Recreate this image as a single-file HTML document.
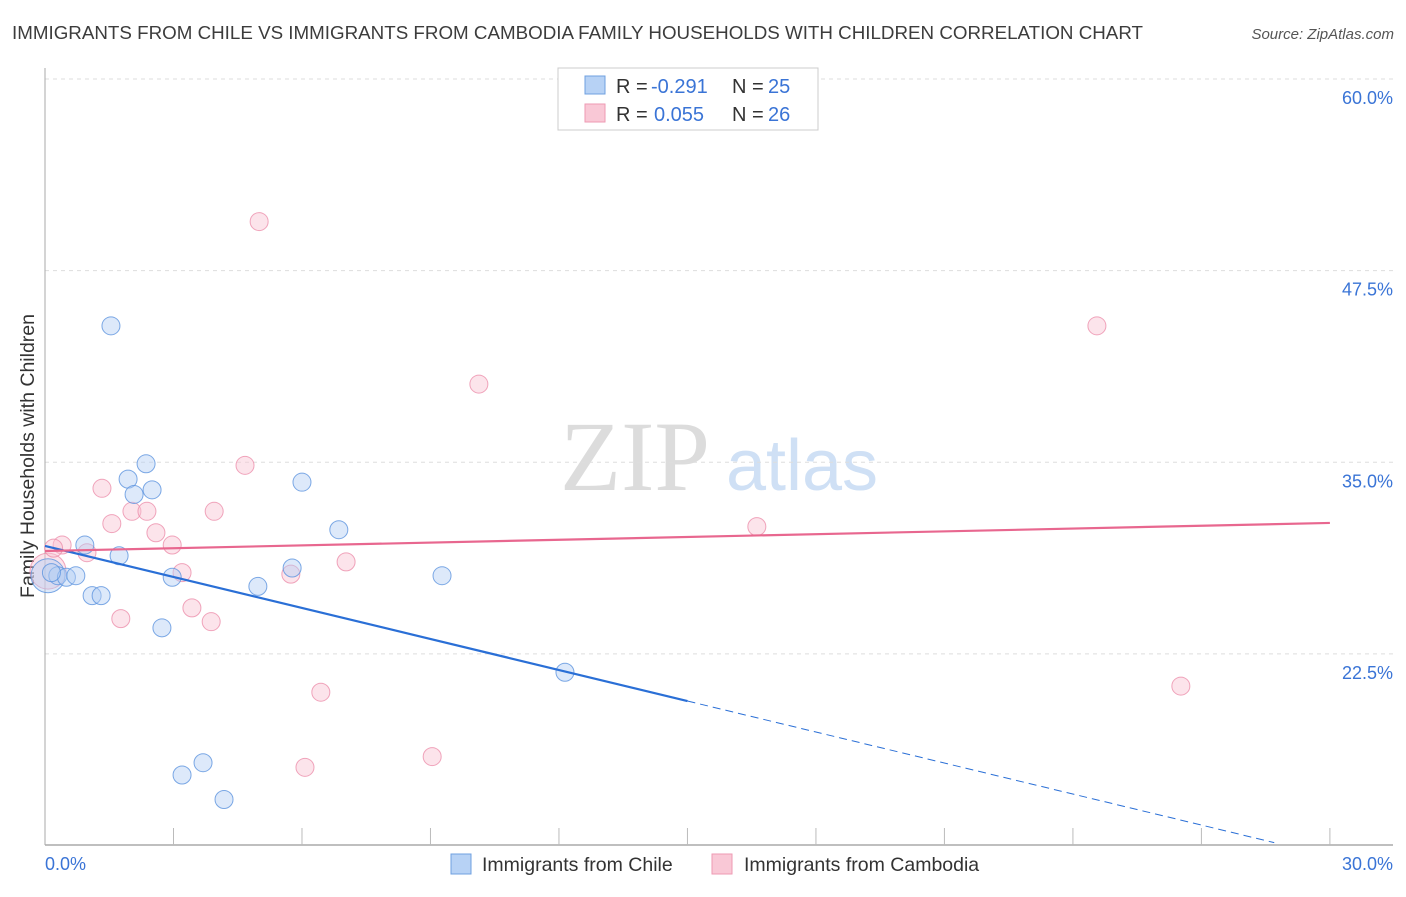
<!DOCTYPE html>
<html><head><meta charset="utf-8"><style>
body{margin:0;background:#fff;}
</style></head><body>
<svg id="chart" width="1406" height="892" xmlns="http://www.w3.org/2000/svg" font-family="Liberation Sans, sans-serif">
<text x="12" y="39" font-size="18.6" fill="#3c3c3c" textLength="1131" lengthAdjust="spacingAndGlyphs">IMMIGRANTS FROM CHILE VS IMMIGRANTS FROM CAMBODIA FAMILY HOUSEHOLDS WITH CHILDREN CORRELATION CHART</text>
<text x="1394" y="39" font-size="15" fill="#555" text-anchor="end" font-style="italic">Source: ZipAtlas.com</text>
<text transform="translate(34,456) rotate(-90)" font-size="19.5" fill="#333" text-anchor="middle">Family Households with Children</text>
<g><text x="635" y="490" font-size="100" fill="#dcdcdc" text-anchor="middle" style="font-family:'Liberation Serif',serif">ZIP</text><text x="802" y="490" font-size="72" fill="#cfe0f5" text-anchor="middle">atlas</text></g>
<g id="grid"></g><g id="axes"></g><g id="marks"></g>
<g>
<rect x="558" y="68" width="260" height="62" fill="#fff" stroke="#ccc"/>
<rect x="585" y="76" width="20" height="18" fill="#b7d2f5" stroke="#6fa0e0"/>
<rect x="585" y="104" width="20" height="18" fill="#f9c8d6" stroke="#ee9ab3"/>
<text x="616" y="93" font-size="20" fill="#333">R =</text><text x="651" y="93" font-size="20" fill="#3a74d6">-0.291</text>
<text x="732" y="93" font-size="20" fill="#333">N =</text><text x="768" y="93" font-size="20" fill="#3a74d6">25</text>
<text x="616" y="121" font-size="20" fill="#333">R =</text><text x="654" y="121" font-size="20" fill="#3a74d6">0.055</text>
<text x="732" y="121" font-size="20" fill="#333">N =</text><text x="768" y="121" font-size="20" fill="#3a74d6">26</text>
</g>
<g>
<rect x="451" y="854" width="20" height="20" fill="#b7d2f5" stroke="#6fa0e0"/>
<text x="482" y="871" font-size="19.5" fill="#333">Immigrants from Chile</text>
<rect x="712" y="854" width="20" height="20" fill="#f9c8d6" stroke="#ee9ab3"/>
<text x="744" y="871" font-size="19.5" fill="#333">Immigrants from Cambodia</text>
</g>
</svg>
<script>
const yTicks=[60,47.5,35,22.5];
const yTickLabels=["60.0%","47.5%","35.0%","22.5%"];
const xTickLabels=["0.0%","30.0%"];
const chileX=[0.07,0.3,0.5,0.72,0.93,1.1,1.31,1.54,1.73,1.94,2.08,2.36,2.5,2.73,2.97,3.2,3.69,4.18,4.97,5.77,6.0,6.86,9.27,12.14,0.15];
const chileY=[27.6,27.6,27.5,27.6,29.6,26.3,26.3,43.9,28.9,33.9,32.9,34.9,33.2,24.2,27.5,14.6,15.4,13.0,26.9,28.1,33.7,30.6,27.6,21.3,27.8];
const cambX=[0.07,0.4,0.98,1.33,1.56,1.77,2.03,2.38,2.59,2.97,3.2,3.43,3.88,3.95,4.67,5.0,5.74,6.07,6.44,7.03,9.04,10.13,16.62,24.56,26.52,0.2];
const cambY=[27.9,29.6,29.1,33.3,31.0,24.8,31.8,31.8,30.4,29.6,27.8,25.5,24.6,31.8,34.8,50.7,27.7,15.1,20.0,28.5,15.8,40.1,30.8,43.9,20.4,29.4];
const cambSize=[18,9,9,9,9,9,9,9,9,9,9,9,9,9,9,9,9,9,9,9,9,9,9,9,9,9];
const chileSize=[17,9,9,9,9,9,9,9,9,9,9,9,9,9,9,9,9,9,9,9,9,9,9,9,9];
const chileTrend=[29.54,9.31];
const cambTrend=[29.21,31.04];
const X=v=>45+v*42.83, Y=v=>79+(60-v)*15.33;
const NS="http://www.w3.org/2000/svg";
function mk(t,a,p){const e=document.createElementNS(NS,t);for(const k in a)e.setAttribute(k,a[k]);p.appendChild(e);return e;}
const grid=document.getElementById('grid'),axes=document.getElementById('axes'),marks=document.getElementById('marks');
yTicks.forEach((t,i)=>{
 const l=mk('line',{x1:45,x2:1393,y1:Y(t),y2:Y(t),stroke:'#ddd','stroke-dasharray':'4,4'},grid);
 
 
 const tx=mk('text',{x:1393,y:Y(t)+25,'font-size':18,fill:'#3a74d6','text-anchor':'end'},axes);
 tx.textContent=yTickLabels[i];
 
 
});
const ax=mk('line',{x1:45,x2:1393,y1:845,y2:845,stroke:'#aaa','stroke-width':1.5},axes);


const ay=mk('line',{x1:45,x2:45,y1:68,y2:845,stroke:'#aaa','stroke-width':1},axes);


for(let i=1;i<=10;i++){const t=mk('line',{x1:X(i*3),x2:X(i*3),y1:828,y2:845,stroke:'#bbb'},axes);
 
 }
[[0,'start',45],[1,'end',1393]].forEach(([i,a,x])=>{const t=mk('text',{x:x,y:870,'font-size':18,fill:'#3a74d6','text-anchor':a},axes);t.textContent=xTickLabels[i];
 
 });
function pts(xs,ys,ss,fill,stroke,name){xs.forEach((x,i)=>{const c=mk('circle',{cx:X(x),cy:Y(ys[i]),r:ss[i],fill:fill,stroke:stroke,'fill-opacity':0.45,'stroke-opacity':0.8,'stroke-width':1},marks);
 
 });}
pts(cambX,cambY,cambSize,'#f9c3d2','#ec8fab','cambodia-point');
pts(chileX,chileY,chileSize,'#b4cff3','#5d93de','chile-point');
const cy=x=>chileTrend[0]+(chileTrend[1]-chileTrend[0])*x/30;
const l1=mk('line',{x1:X(0),y1:Y(cy(0)),x2:X(15),y2:Y(cy(15)),stroke:'#2a6fd6','stroke-width':2.2},marks);


const l2=mk('line',{x1:X(15),y1:Y(cy(15)),x2:X(28.7),y2:Y(cy(28.7)),stroke:'#2a6fd6','stroke-width':1,'stroke-dasharray':'8,5'},marks);


const l3=mk('line',{x1:X(0),y1:Y(cambTrend[0]),x2:X(30),y2:Y(cambTrend[1]),stroke:'#e8678f','stroke-width':2.2},marks);


</script>
</body></html>
